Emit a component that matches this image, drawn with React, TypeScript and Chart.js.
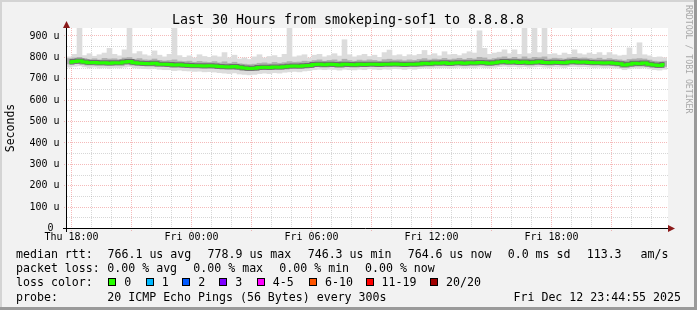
import React, { useEffect, useRef } from "react";
import { Chart, registerables } from "chart.js";

Chart.register(...registerables);

// ---------------- data ----------------
const chartTitle = "Last 30 Hours from smokeping-sof1 to 8.8.8.8";
const yAxisTitle = "Seconds";
const watermark = "RRDTOOL / TOBI OETIKER";
const windowHours = 30; // Thu 17:48 .. Fri 23:48
const binHours = 0.25; // one value every 15 minutes
const firstHourMark = 0.2; // Thu 18:00 relative to window start
const timeLabels = ["Thu 18:00", "Fri 00:00", "Fri 06:00", "Fri 12:00", "Fri 18:00"];
const yMaxMicro = 935;
const yTickValues = [0, 100, 200, 300, 400, 500, 600, 700, 800, 900];

// median rtt (microseconds)
const rttMedian = [
  775, 778, 781, 776, 772, 774, 771, 773, 770, 772,
  771, 776, 778, 772, 770, 769, 768, 770, 766, 765,
  764, 762, 763, 761, 760, 758, 759, 757, 758, 757,
  755, 754, 753, 755, 751, 748, 746, 747, 750, 752,
  750, 753, 752, 754, 756, 757, 756, 758, 760, 764,
  765, 763, 765, 764, 762, 765, 764, 763, 765, 764,
  766, 765, 764, 766, 765, 767, 766, 764, 766, 765,
  767, 770, 768, 771, 770, 772, 769, 771, 773, 770,
  772, 771, 774, 772, 770, 773, 776, 778, 775, 777,
  774, 776, 773, 775, 777, 774, 772, 775, 774, 772,
  776, 777, 775, 776, 774, 772, 773, 771, 772, 770,
  768, 762, 766, 770, 768, 771, 766, 762, 760, 764,
];

// fastest ping of each interval
const rttMin = [
  752, 756, 758, 753, 748, 752, 747, 750, 746, 750,
  748, 752, 755, 749, 746, 745, 744, 746, 742, 740,
  740, 736, 738, 735, 734, 732, 733, 730, 731, 729,
  726, 724, 722, 725, 720, 718, 716, 718, 722, 724,
  722, 726, 724, 728, 730, 732, 730, 734, 736, 740,
  742, 740, 742, 741, 738, 742, 740, 739, 742, 740,
  744, 742, 740, 743, 742, 745, 744, 741, 744, 742,
  745, 748, 746, 749, 748, 750, 747, 749, 751, 748,
  750, 749, 752, 750, 748, 751, 754, 756, 753, 755,
  752, 754, 751, 753, 755, 752, 750, 753, 752, 750,
  754, 755, 753, 754, 752, 750, 751, 749, 750, 748,
  746, 740, 744, 748, 746, 749, 744, 740, 738, 742,
];

// lower edge of the dense smoke
const rttLow = [
  767, 770, 772, 768, 764, 766, 763, 765, 762, 764,
  763, 767, 769, 764, 762, 760, 760, 761, 758, 757,
  756, 753, 755, 752, 751, 750, 750, 748, 749, 748,
  746, 745, 744, 746, 742, 739, 737, 738, 741, 743,
  741, 744, 743, 745, 747, 748, 747, 749, 751, 755,
  756, 754, 756, 755, 753, 756, 755, 754, 756, 755,
  757, 756, 755, 757, 756, 758, 757, 755, 757, 756,
  758, 761, 759, 762, 761, 763, 760, 762, 764, 761,
  763, 762, 765, 763, 761, 764, 767, 769, 766, 768,
  765, 767, 764, 766, 768, 765, 763, 766, 765, 763,
  767, 768, 766, 767, 765, 763, 764, 762, 763, 761,
  759, 753, 757, 761, 759, 762, 757, 753, 751, 755,
];

// upper edge of the dense smoke
const rttHigh = [
  792, 795, 798, 792, 788, 791, 786, 793, 790, 791,
  787, 795, 797, 789, 792, 786, 785, 790, 784, 781,
  783, 786, 780, 778, 780, 775, 779, 776, 774, 778,
  772, 777, 770, 775, 768, 766, 764, 766, 770, 772,
  768, 774, 770, 773, 778, 775, 776, 780, 778, 783,
  786, 780, 784, 786, 780, 789, 783, 780, 785, 782,
  786, 784, 780, 787, 789, 785, 786, 782, 786, 784,
  788, 792, 786, 790, 788, 793, 787, 790, 793, 788,
  793, 790, 798, 795, 788, 792, 796, 800, 793, 798,
  791, 800, 792, 798, 796, 800, 790, 794, 792, 790,
  795, 798, 794, 795, 792, 790, 794, 788, 792, 788,
  786, 782, 788, 790, 792, 790, 785, 780, 778, 780,
];

// slowest ping of each interval
const rttMax = [
  800, 812, 935, 806, 815, 803, 810, 818, 840, 812,
  805, 833, 935, 815, 825, 810, 805, 828, 808, 800,
  812, 935, 806, 798, 805, 795, 810, 802, 798, 805,
  800, 820, 796, 808, 790, 795, 788, 800, 810, 795,
  802, 806, 798, 812, 935, 800, 805, 810, 795, 808,
  812, 800, 806, 815, 804, 880, 810, 800, 806, 812,
  802, 808, 798, 820, 832, 806, 810, 802, 810, 806,
  812, 830, 808, 815, 805, 824, 810, 812, 806, 815,
  824, 818, 922, 840, 812, 818, 822, 833, 815, 833,
  812, 935, 815, 935, 820, 935, 812, 815, 808, 818,
  812, 833, 815, 810, 818, 812, 820, 808, 820, 810,
  805, 808, 842, 812, 866, 810, 805, 798, 800, 796,
];

const rttLegendLabel = "median rtt:";
const rttStats = ["766.1 us avg", "778.9 us max", "746.3 us min", "764.6 us now", "0.0 ms sd", "113.3", "am/s"];
const lossLegendLabel = "packet loss:";
const lossStats = ["0.00 % avg", "0.00 % max", "0.00 % min", "0.00 % now"];
const lossColorLabel = "loss color:";
const lossLabels = ["0", "1", "2", "3", "4-5", "6-10", "11-19", "20/20"];
const lossColors = ["#26ff00", "#00b8ff", "#0059ff", "#7e00ff", "#ff00ff", "#ff5500", "#ff0000", "#a00000"];
const probeLabel = "probe:";
const probeText = "20 ICMP Echo Pings (56 Bytes) every 300s";
const dateText = "Fri Dec 12 23:44:55 2025";

// ---------------- layout ----------------
const W = 697;
const H = 310;
const MONO = "'DejaVu Sans Mono', monospace";
const rttX = [107.5, 207.5, 307.7, 407.7, 507.7, 586.7, 640.5];
const lossX = [107.3, 193.3, 279.3, 365];
const boxX = [108.3, 145.7, 182.3, 219.3, 256.7, 309, 365.5, 430];
const rowY = [257.5, 271.8, 286.2, 300.6];
const MGRID = "rgba(230,90,90,0.42)";
const GRID = "rgba(150,150,150,0.38)";

const binCenters = rttMedian.map((_, i) => binHours * i + binHours / 2);
const pts = (arr: number[]) => arr.map((v, i) => ({ x: binCenters[i], y: v }));
const range = (lo: number[], hi: number[]) => lo.map((v, i) => ({ x: binCenters[i], y: [v, hi[i]] }));

const rrdPlugin = {
  id: "rrdPlugin",
  beforeDraw(chart: any) {
    const ctx = chart.ctx as CanvasRenderingContext2D;
    const a = chart.chartArea;
    ctx.save();
    ctx.fillStyle = "#f2f2f2";
    ctx.fillRect(0, 0, W, H);
    ctx.fillStyle = "#d4d4d4";
    ctx.fillRect(0, 0, W, 2);
    ctx.fillRect(0, 0, 2, H);
    ctx.fillStyle = "#9a9a9a";
    ctx.fillRect(0, H - 3, W, 3);
    ctx.fillRect(W - 3, 0, 3, H);
    ctx.fillStyle = "#ffffff";
    ctx.fillRect(a.left, a.top, a.right - a.left + 1, a.bottom - a.top);
    ctx.restore();
  },
  beforeDatasetsDraw(chart: any) {
    const ctx = chart.ctx as CanvasRenderingContext2D;
    const a = chart.chartArea;
    const xs = chart.scales.x;
    const ys = chart.scales.y;
    ctx.save();
    ctx.lineWidth = 1;
    ctx.setLineDash([1, 1]);
    for (let v = 50; v < yMaxMicro; v += 50) {
      const major = v % 100 === 0;
      const y = Math.round(ys.getPixelForValue(v)) + 0.5;
      ctx.strokeStyle = major ? MGRID : GRID;
      ctx.beginPath();
      ctx.moveTo(a.left - (major ? 3 : 0), y);
      ctx.lineTo(a.right + 1, y);
      ctx.stroke();
    }
    for (let k = 0; firstHourMark + k < windowHours; k++) {
      const major = k % 3 === 0;
      const x = Math.round(xs.getPixelForValue(firstHourMark + k)) + 0.5;
      ctx.strokeStyle = major ? MGRID : GRID;
      ctx.beginPath();
      ctx.moveTo(x, a.top);
      ctx.lineTo(x, a.bottom + (major ? 4 : 0));
      ctx.stroke();
    }
    ctx.restore();
  },
  afterDatasetsDraw(chart: any) {
    const ctx = chart.ctx as CanvasRenderingContext2D;
    const a = chart.chartArea;
    const xs = chart.scales.x;
    const ys = chart.scales.y;
    ctx.save();
    // axes
    ctx.strokeStyle = "#000";
    ctx.lineWidth = 1;
    ctx.beginPath();
    ctx.moveTo(a.left - 4, a.bottom + 0.5);
    ctx.lineTo(a.right + 1, a.bottom + 0.5);
    ctx.moveTo(a.left - 0.5, a.bottom + 4);
    ctx.lineTo(a.left - 0.5, a.top - 1);
    ctx.stroke();
    // arrows
    ctx.fillStyle = "#8b1a1a";
    ctx.beginPath();
    ctx.moveTo(a.left - 4, a.top);
    ctx.lineTo(a.left + 3, a.top);
    ctx.lineTo(a.left - 0.5, a.top - 7);
    ctx.closePath();
    ctx.fill();
    ctx.beginPath();
    ctx.moveTo(a.right + 1, a.bottom - 3);
    ctx.lineTo(a.right + 1, a.bottom + 4);
    ctx.lineTo(a.right + 8, a.bottom + 0.5);
    ctx.closePath();
    ctx.fill();

    // title
    ctx.fillStyle = "#000";
    ctx.font = `13.3px ${MONO}`;
    ctx.textAlign = "center";
    ctx.textBaseline = "alphabetic";
    ctx.fillText(chartTitle, 348, 24);

    // y tick labels
    ctx.font = `10px ${MONO}`;
    ctx.textAlign = "right";
    ctx.textBaseline = "middle";
    yTickValues.forEach((v) => {
      const label = v === 0 ? "0 " : `${v} u`;
      ctx.fillText(label, 59.5, ys.getPixelForValue(v) + 0.5);
    });
    // x tick labels
    ctx.textAlign = "center";
    ctx.textBaseline = "alphabetic";
    timeLabels.forEach((t, j) => {
      ctx.fillText(t, xs.getPixelForValue(firstHourMark + 6 * j) + 0.5, 240);
    });

    // y axis title
    ctx.save();
    ctx.translate(11, (a.top + a.bottom) / 2);
    ctx.rotate(-Math.PI / 2);
    ctx.font = `11.5px ${MONO}`;
    ctx.textAlign = "center";
    ctx.textBaseline = "middle";
    ctx.fillText(yAxisTitle, 0, 0);
    ctx.restore();

    // watermark
    ctx.save();
    ctx.translate(688.5, 5);
    ctx.rotate(Math.PI / 2);
    ctx.font = `8.2px ${MONO}`;
    ctx.fillStyle = "#a8a8a8";
    ctx.textAlign = "left";
    ctx.textBaseline = "middle";
    ctx.fillText(watermark, 0, 0);
    ctx.restore();

    // legend
    ctx.font = `11.6px ${MONO}`;
    ctx.fillStyle = "#000";
    ctx.textAlign = "left";
    ctx.textBaseline = "alphabetic";
    ctx.fillText(rttLegendLabel, 16, rowY[0]);
    rttStats.forEach((s, i) => ctx.fillText(s, rttX[i], rowY[0]));
    ctx.fillText(lossLegendLabel, 16, rowY[1]);
    lossStats.forEach((s, i) => ctx.fillText(s, lossX[i], rowY[1]));
    ctx.fillText(lossColorLabel, 16, rowY[2]);
    lossLabels.forEach((l, i) => {
      const bx = Math.round(boxX[i]);
      const by = Math.round(rowY[2] - 8);
      ctx.fillStyle = lossColors[i];
      ctx.fillRect(bx, by, 8, 8);
      ctx.strokeStyle = "#000";
      ctx.lineWidth = 1;
      ctx.strokeRect(bx + 0.5, by + 0.5, 7, 7);
      ctx.fillStyle = "#000";
      ctx.fillText(l, boxX[i] + 16, rowY[2]);
    });
    ctx.fillText(probeLabel, 16, rowY[3]);
    ctx.fillText(probeText, 107.3, rowY[3]);
    ctx.textAlign = "right";
    ctx.fillText(dateText, 681, rowY[3]);
    ctx.restore();
  },
};

export default function App() {
  const canvasRef = useRef<HTMLCanvasElement | null>(null);

  useEffect(() => {
    if (!canvasRef.current) return;
    const barCommon = {
      type: "bar" as const,
      grouped: false,
      barPercentage: 1,
      categoryPercentage: 1,
      borderWidth: 0,
      borderSkipped: false,
    };
    const chart = new Chart(canvasRef.current, {
      type: "bar",
      data: {
        datasets: [
          {
            type: "line",
            label: "median",
            data: pts(rttMedian),
            borderColor: "#26ff00",
            borderWidth: 3,
            pointRadius: 0,
            stepped: "middle",
            fill: false,
            order: 0,
          } as any,
          {
            type: "line",
            label: "median core",
            data: pts(rttMedian),
            borderColor: "rgba(30,30,30,0.45)",
            borderWidth: 5,
            pointRadius: 0,
            stepped: "middle",
            fill: false,
            order: 1,
          } as any,
          { ...barCommon, label: "dense", data: range(rttLow, rttHigh), backgroundColor: "#b0b0b0", order: 2 } as any,
          { ...barCommon, label: "all", data: range(rttMin, rttMax), backgroundColor: "#dcdcdc", order: 3 } as any,
        ],
      },
      options: {
        responsive: false,
        devicePixelRatio: 1,
        animation: false,
        events: [],
        layout: { padding: { left: 67, top: 28, right: 30, bottom: 82 } },
        plugins: { legend: { display: false }, tooltip: { enabled: false }, title: { display: false } },
        scales: {
          x: { type: "linear", display: false, min: 0, max: windowHours, offset: false, grid: { display: false } },
          y: { type: "linear", display: false, min: 0, max: yMaxMicro, grid: { display: false } },
        },
      },
      plugins: [rrdPlugin],
    });
    return () => chart.destroy();
  }, []);

  return (
    <div style={{ position: "absolute", left: 0, top: 0, width: W, height: H }}>
      <canvas ref={canvasRef} width={W} height={H} style={{ display: "block", width: W, height: H }} />
    </div>
  );
}
